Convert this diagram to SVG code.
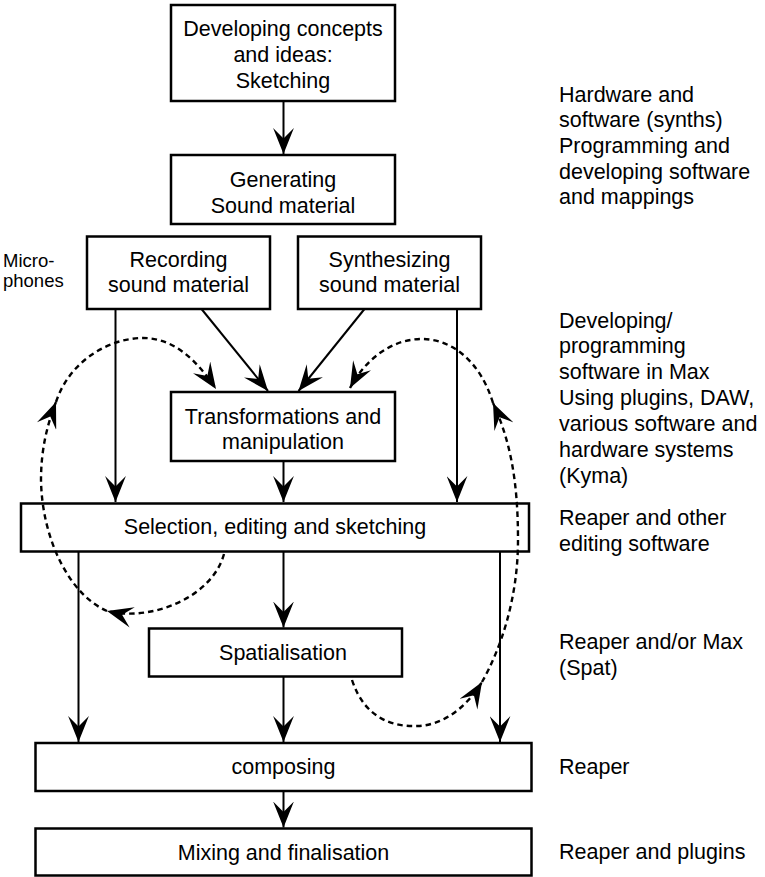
<svg xmlns="http://www.w3.org/2000/svg" width="765" height="877" viewBox="0 0 765 877">
<defs>
<style>
.box{fill:#fff;stroke:#000;stroke-width:2.5}
.t{font-family:"Liberation Sans",Arial,sans-serif;font-size:21.5px;fill:#000}
.c{text-anchor:middle}
.small{font-size:18.5px}
.edge{fill:none;stroke:#000;stroke-width:2;marker-end:url(#ah)}
.dash{fill:none;stroke:#000;stroke-width:2.4;stroke-dasharray:5.5 4;marker-end:url(#ah)}
</style>
<marker id="ah" viewBox="0 0 25 20" refX="25" refY="10" markerWidth="26" markerHeight="21" markerUnits="userSpaceOnUse" orient="auto">
<path d="M0,0 L25,10 L0,20 L10,10 Z" fill="#000"/>
</marker>
</defs>
<rect width="765" height="877" fill="#fff"/>
<g id="n-concepts">
<rect class="box" x="171" y="5" width="224" height="96"/>
<text class="t c" x="283" y="35.5">Developing concepts</text>
<text class="t c" x="283" y="61.5">and ideas:</text>
<text class="t c" x="283" y="87.5">Sketching</text>
</g>
<g id="n-generating">
<rect class="box" x="171" y="155" width="224" height="69"/>
<text class="t c" x="283" y="187">Generating</text>
<text class="t c" x="283" y="212.5">Sound material</text>
</g>
<g id="n-recording">
<rect class="box" x="87" y="236.5" width="183" height="72.5"/>
<text class="t c" x="178.5" y="266.5">Recording</text>
<text class="t c" x="178.5" y="292">sound material</text>
</g>
<g id="n-synth">
<rect class="box" x="298" y="236.5" width="183" height="72.5"/>
<text class="t c" x="389.5" y="266.5">Synthesizing</text>
<text class="t c" x="389.5" y="292">sound material</text>
</g>
<g id="n-transform">
<rect class="box" x="171" y="392" width="224" height="69"/>
<text class="t c" x="283" y="423.5">Transformations and</text>
<text class="t c" x="283" y="449">manipulation</text>
</g>
<g id="n-selection">
<rect class="box" x="21" y="503.5" width="508" height="48"/>
<text class="t c" x="275" y="533.5">Selection, editing and sketching</text>
</g>
<g id="n-spat">
<rect class="box" x="149" y="628.5" width="253" height="48"/>
<text class="t c" x="283" y="660">Spatialisation</text>
</g>
<g id="n-composing">
<rect class="box" x="35.5" y="743" width="496" height="48"/>
<text class="t c" x="283.5" y="774">composing</text>
</g>
<g id="n-mixing">
<rect class="box" x="35.5" y="828.5" width="496" height="47"/>
<text class="t c" x="283.5" y="859.5">Mixing and finalisation</text>
</g>
<g id="labels">
<text class="t small" x="3" y="267">Micro-</text>
<text class="t small" x="3" y="287">phones</text>
<text class="t" x="559" y="101.7">Hardware and</text>
<text class="t" x="559" y="127.3">software (synths)</text>
<text class="t" x="559" y="152.9">Programming and</text>
<text class="t" x="559" y="178.5">developing software</text>
<text class="t" x="559" y="204.1">and mappings</text>
<text class="t" x="559" y="327.5">Developing/</text>
<text class="t" x="559" y="353.2">programming</text>
<text class="t" x="559" y="379.2">software in Max</text>
<text class="t" x="559" y="404.8">Using plugins, DAW,</text>
<text class="t" x="559" y="430.5">various software and</text>
<text class="t" x="559" y="456.5">hardware systems</text>
<text class="t" x="559" y="482.5">(Kyma)</text>
<text class="t" x="559" y="524.8">Reaper and other</text>
<text class="t" x="559" y="550.8">editing software</text>
<text class="t" x="559" y="649.2">Reaper and/or Max</text>
<text class="t" x="559" y="674.8">(Spat)</text>
<text class="t" x="559" y="773.5">Reaper</text>
<text class="t" x="559" y="859">Reaper and plugins</text>
</g>
<g id="connectors">
<path class="edge" d="M283.5,102 V154"/>
<path class="edge" d="M201.5,309 L268,391"/>
<path class="edge" d="M364.5,309 L298.5,391"/>
<path class="edge" d="M115.5,309 V502"/>
<path class="edge" d="M457,309 V502"/>
<path class="edge" d="M283.5,461 V502"/>
<path class="edge" d="M283.5,552 V627.5"/>
<path class="edge" d="M78.5,552 V742"/>
<path class="edge" d="M283.5,677 V742"/>
<path class="edge" d="M500,552 V742"/>
<path class="edge" d="M283.5,791 V827.5"/>
<path class="dash" d="M224,554 C212,598 150,622 107,611"/>
<path class="dash" d="M107,611 C70,595 42,540 41,480 C41,450 47,425 56,402"/>
<path class="dash" d="M56,402 C70,360 110,338 143,338 C175,338 198,362 216,389"/>
<path class="dash" d="M352,680 C365,720 395,727 418,726 C445,725 468,705 482,682"/>
<path class="dash" d="M482,682 C500,650 518,600 518,540 C518,480 510,440 493,403"/>
<path class="dash" d="M493,403 C480,360 450,338 420,339 C390,340 365,360 350,388"/>
</g>
</svg>
